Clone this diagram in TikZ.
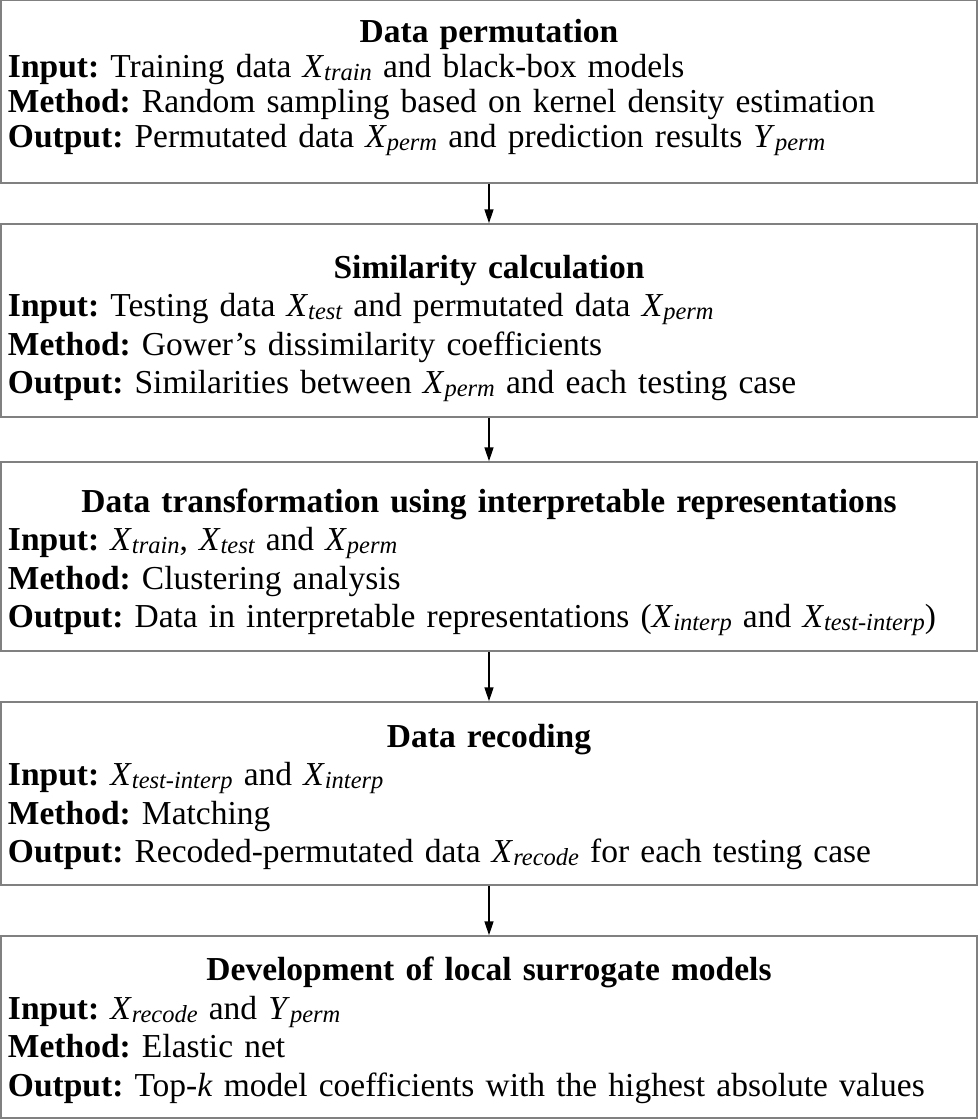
\documentclass[tikz,border=0pt]{standalone}
\usepackage{fontspec}
\setmainfont{Liberation Serif}
\usetikzlibrary{arrows.meta}
\definecolor{boxgray}{RGB}{128,128,128}
\newcommand\vx[2]{\textit{#1}\raisebox{-0.2ex}{\fontsize{24.5}{24.5}\selectfont\itshape #2}}
\newcommand\ttl[1]{\makebox[962pt]{\bfseries #1}}
\frenchspacing
\begin{document}
\begin{tikzpicture}[x=1pt,y=1pt,
  box/.style={draw=boxgray,line width=1.5pt,minimum width=976pt,inner sep=0pt},
  txt/.style={inner sep=0pt,text width=962pt,align=left,font=\fontsize{33.5}{38.5}\selectfont},
  arr/.style={line width=1.5pt,-{Triangle[length=14pt,width=9pt]}}]
\useasboundingbox (0,0) rectangle (980,-1120);
\node[box,minimum height=183pt] (b1) at (489,-91.5) {};
\node[box,minimum height=193pt] (b2) at (489,-320.5) {};
\node[box,minimum height=189pt] (b3) at (489,-556.5) {};
\node[box,minimum height=183pt] (b4) at (489,-793.5) {};
\node[box,minimum height=182pt] (b5) at (489,-1027) {};
\node[txt,font=\fontsize{33.5}{35}\selectfont,yshift=4pt] (t1) at (b1.center) {\ttl{Data permutation}\\
\textbf{Input:} Training data \vx{X}{train} and black-box models\\
\textbf{Method:} Random sampling based on kernel density estimation\\
\textbf{Output:} Permutated data \vx{X}{perm} and prediction results \vx{Y}{perm}};
\node[txt,yshift=-8pt] (t2) at (b2.center) {\ttl{Similarity calculation}\\
\textbf{Input:} Testing data \vx{X}{test} and permutated data \vx{X}{perm}\\
\textbf{Method:} Gower’s dissimilarity coefficients\\
\textbf{Output:} Similarities between \vx{X}{perm} and each testing case};
\node[txt,yshift=-6pt] (t3) at (b3.center) {\ttl{Data transformation using interpretable representations}\\
\textbf{Input:} \vx{X}{train}, \vx{X}{test} and \vx{X}{perm}\\
\textbf{Method:} Clustering analysis\\
\textbf{Output:} Data in interpretable representations (\vx{X}{interp} and \vx{X}{test-interp})};
\node[txt,yshift=-3.5pt] (t4) at (b4.center) {\ttl{Data recoding}\\
\textbf{Input:} \vx{X}{test-interp} and \vx{X}{interp}\\
\textbf{Method:} Matching\\
\textbf{Output:} Recoded-permutated data \vx{X}{recode} for each testing case};
\node[txt,yshift=-3.5pt] (t5) at (b5.center) {\ttl{Development of local surrogate models}\\
\textbf{Input:} \vx{X}{recode} and \vx{Y}{perm}\\
\textbf{Method:} Elastic net\\
\textbf{Output:} Top-\textit{k} model coefficients with the highest absolute values};
\draw[arr] (b1) -- (b2);
\draw[arr] (b2) -- (b3);
\draw[arr] (b3) -- (b4);
\draw[arr] (b4) -- (b5);
\end{tikzpicture}
\end{document}
